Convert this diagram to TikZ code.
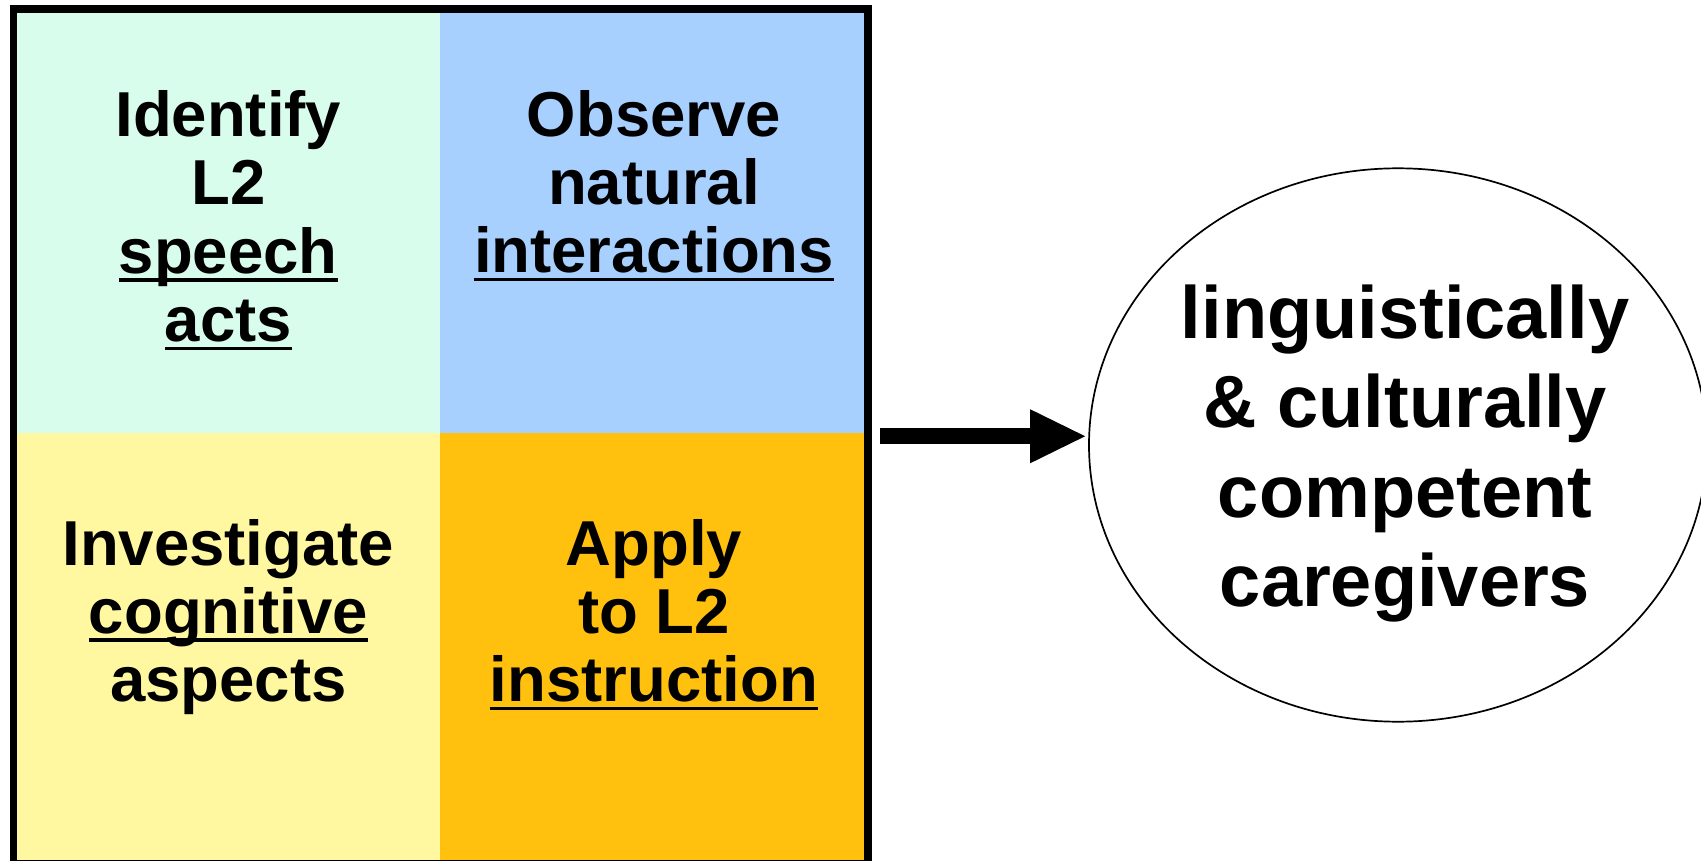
\documentclass[tikz,border=0pt]{standalone}
\usepackage{fontspec}
\setmainfont{Liberation Sans}
\usetikzlibrary{arrows.meta,shapes.geometric}
\definecolor{tlcol}{HTML}{D9FDEC}
\definecolor{trcol}{HTML}{A8D0FF}
\definecolor{blcol}{HTML}{FFF8A0}
\definecolor{brcol}{HTML}{FFC10E}
\newcommand\myul[1]{\setbox0\hbox{#1}\rlap{\rule[-8.5pt]{\wd0}{3.5pt}}\box0}
\newcommand\celltext[1]{\begin{tabular}[t]{@{}c@{}}#1\end{tabular}}
\tikzset{
  cellbox/.style={rectangle, inner sep=0pt, outer sep=0pt, anchor=north west, draw=none},
  celllabel/.style={anchor=base, inner sep=0pt, font=\bfseries\fontsize{63.5pt}{68.3pt}\selectfont},
  goallabel/.style={anchor=base, inner sep=0pt, font=\bfseries\fontsize{74pt}{89.5pt}\selectfont},
  bigarrow/.style={line width=16pt, -{Triangle[length=55pt,width=54pt,line width=0pt]}, shorten >=3pt}
}
\begin{document}
\begin{tikzpicture}[x=1pt,y=-1pt]
\path[use as bounding box, clip] (0,0) rectangle (1701,861);
% cells
\node[cellbox, fill=tlcol, minimum width=426.5pt, minimum height=424pt] (tl) at (13.5,9) {};
\node[cellbox, fill=trcol, minimum width=428pt, minimum height=424pt] (tr) at (440,9) {};
\node[cellbox, fill=blcol, minimum width=426.5pt, minimum height=430.5pt] (bl) at (13.5,433) {};
\node[cellbox, fill=brcol, minimum width=428pt, minimum height=430.5pt] (br) at (440,433) {};
% outer frame
\node[draw, line width=7.5pt, inner sep=0pt, outer sep=0pt, anchor=north west,
      minimum width=854.5pt, minimum height=854.5pt] (outer) at (13.5,9) {};
% cell texts
\node[celllabel] (tltext) at (228.3,136.7) {\celltext{Identify\\L2\\\myul{speech}\\\myul{acts}}};
\node[celllabel] (trtext) at (654,136.2) {\celltext{Observe\\natural\\\myul{interactions}}};
\node[celllabel] (bltext) at (228.3,565) {\celltext{Investigate\\\myul{cognitive}\\aspects}};
\node[celllabel] (brtext) at (654,565) {\celltext{Apply\\to L2\\\myul{instruction}}};
% goal ellipse
\node[ellipse, draw, line width=1.7pt, inner sep=0pt, minimum width=618pt, minimum height=553.4pt] (goal) at (1398,445) {};
\node[goallabel] (goaltext) at (1405,338.3) {\celltext{linguistically\\\& culturally\\competent\\caregivers}};
% arrow
\draw[bigarrow] ([xshift=12pt]outer.east) -- (goal.west |- outer.east);
\end{tikzpicture}
\end{document}
